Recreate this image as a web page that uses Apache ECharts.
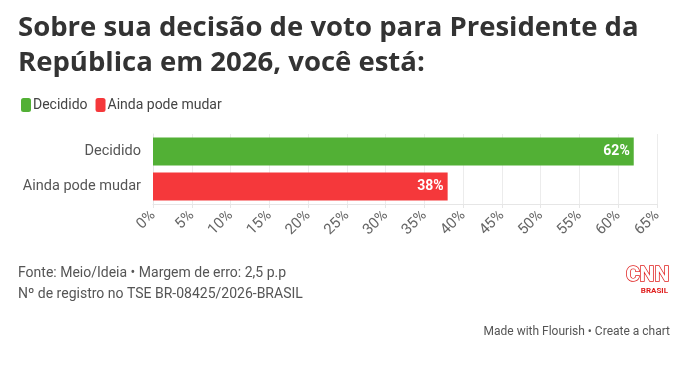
<!DOCTYPE html>
<html><head><meta charset="utf-8">
<script src="https://cdn.jsdelivr.net/npm/echarts@6/dist/echarts.min.js"></script>
<style>html,body{margin:0;padding:0;background:#fff}#c{width:683px;height:365px}</style>
</head><body><div id="c"></div>
<script>
const categories = ['Decidido', 'Ainda pode mudar'];
const values = [62, 38];
const colors = ['#52b035', '#f5383b'];
const tickMax = 65;
const tickStep = 5;
const titleLines = ['Sobre sua decisão de voto para Presidente da', 'República em 2026, você está:'];
const footerLines = ['Fonte: Meio/Ideia • Margem de erro: 2,5 p.p', 'Nº de registro no TSE BR-08425/2026-BRASIL'];
const FONT = 'Roboto, "Open Sans", sans-serif';

const chart = echarts.init(document.getElementById('c'), null, {renderer: 'canvas'});
chart.setOption({
  animation: false,
  backgroundColor: '#fff',
  grid: {left: 153, right: 26, top: 134, bottom: 161, containLabel: false},
  legend: {
    left: 16, top: 93, itemWidth: 10, itemHeight: 14, itemGap: 8,
    icon: 'roundRect',
    data: categories.map((c, i) => ({name: c, itemStyle: {color: colors[i]}})),
    textStyle: {fontFamily: FONT, fontSize: 14, color: '#444', padding: [0, 0, 0, -3]}
  },
  xAxis: {
    type: 'value', min: 0, max: tickMax, interval: tickStep,
    axisLine: {show: true, lineStyle: {color: '#e6e6e6'}},
    axisTick: {show: true, length: 4, lineStyle: {color: '#e6e6e6'}},
    splitLine: {show: true, lineStyle: {color: '#ececec', width: 1}},
    axisLabel: {rotate: 45, formatter: '{value}%', fontFamily: FONT, fontSize: 15, color: '#666', margin: 9}
  },
  yAxis: {
    type: 'category', data: categories, inverse: true,
    axisLine: {show: true, lineStyle: {color: '#e6e6e6'}},
    axisTick: {show: false},
    axisLabel: {fontFamily: FONT, fontSize: 14.5, color: '#555', margin: 12}
  },
  series: categories.map((c, i) => ({
    name: c, type: 'bar', stack: 'a',
    barWidth: 28,
    data: categories.map((_, j) => j === i ? values[i] : '-'),
    itemStyle: {color: colors[i]},
    label: {
      show: true, position: 'insideRight', formatter: '{c}%', distance: 4,
      fontFamily: FONT, fontWeight: 'bold', fontSize: 14, color: '#fff',
      textBorderColor: colors[i], textBorderWidth: 2
    }
  })),
  graphic: [
    {type: 'text', left: 18, top: 11, style: {text: titleLines.join('\n'), font: 'bold 27.5px "Open Sans", sans-serif', fill: '#333', lineHeight: 35}},
    {type: 'text', left: 18, top: 263, style: {text: footerLines.join('\n'), font: '14px ' + FONT, fill: '#555', lineHeight: 21}},
    {type: 'text', right: 13, top: 326, style: {text: 'Made with Flourish • Create a chart', font: '12px ' + FONT, fill: '#555'}},
    {type: 'text', right: 13, top: 264, style: {text: 'CNN', font: 'bold 21px ' + FONT, fill: '#fff', stroke: '#e0201f', lineWidth: 1.5}},
    {type: 'text', right: 15, top: 287, style: {text: 'BRASIL', font: 'bold 8px ' + FONT, fill: '#e0201f'}}
  ]
});
</script></body></html>
